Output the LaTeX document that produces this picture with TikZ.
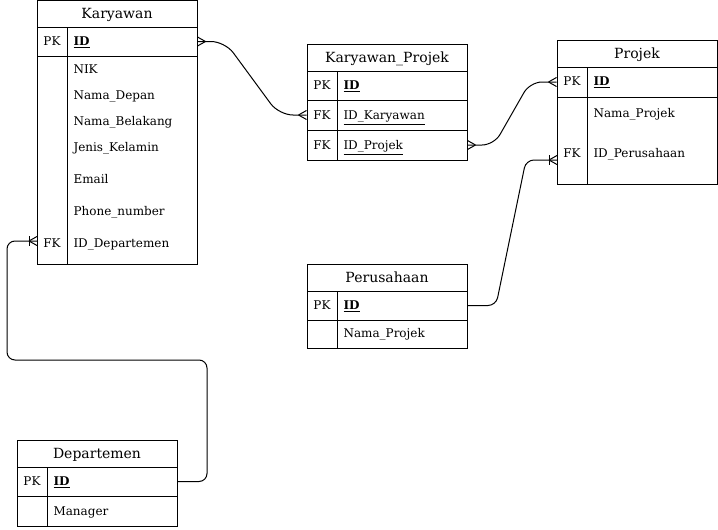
\documentclass[tikz,border=0pt]{standalone}
\usepackage{fontspec}
\setmainfont{DejaVu Serif}
\usetikzlibrary{positioning}

% crow's foot and bar ends, s = 1 (right side) or -1 (left side)
\newcommand{\crow}[2]{\draw (#1) ++({(#2)*8},0) -- ++({-(#2)*8},4.5) (#1) ++({(#2)*8},0) -- ++({-(#2)*8},-4.5);}
\newcommand{\onebar}[2]{\draw (#1) ++({(#2)*8},-5) -- ++(0,10);}

\tikzset{
  tbltitle/.style={draw, minimum width=160pt, minimum height=27pt, inner sep=0pt, text height=10pt, text depth=0pt, font=\fontsize{14}{16}\selectfont},
  rowbox/.style={draw, minimum width=160pt, inner sep=0pt},
  keytxt/.style={inner sep=0pt, text height=9pt, text depth=0pt, font=\fontsize{12}{14}\selectfont},
  fldtxt/.style={keytxt, anchor=west},
}

\begin{document}
\begin{tikzpicture}[x=1pt, y=-1pt, line width=1pt]
    \useasboundingbox (0,0) rectangle (718,530);

    % Karyawan
    \node[tbltitle] (kar) at (117,14) {Karyawan};
    \node[rowbox, minimum height=29pt] (kar-pk) at (117,41.5) {};
    \node[rowbox, minimum height=208pt] (kar-body) at (117,160) {};
    \draw (67,27) -- (67,264);
    \node[keytxt] at (52,41) {PK};
    \node[fldtxt] at (73,41) {\textbf{\underline{ID}}};
    \node[fldtxt] at (73,69) {NIK};
    \node[fldtxt] at (73,95) {Nama\_Depan};
    \node[fldtxt] at (73,121) {Nama\_Belakang};
    \node[fldtxt] at (73,147) {Jenis\_Kelamin};
    \node[fldtxt] at (73,179) {Email};
    \node[fldtxt] at (73,211) {Phone\_number};
    \node[keytxt] at (52,243) {FK};
    \node[fldtxt] at (73,243) {ID\_Departemen};
    \coordinate (kar-fk) at (37,241);

    % Karyawan_Projek
    \node[tbltitle] (kp) at (387,57.5) {Karyawan\_Projek};
    \node[rowbox, minimum height=29pt] (kp-pk) at (387,85.5) {};
    \node[rowbox, minimum height=30pt] (kp-kar) at (387,115) {};
    \node[rowbox, minimum height=30pt] (kp-prj) at (387,145) {};
    \draw (337,71) -- (337,160);
    \node[keytxt] at (322,85) {PK};
    \node[fldtxt] at (343,85) {\textbf{\underline{ID}}};
    \node[keytxt] at (322,115) {FK};
    \node[fldtxt] at (343,115) {\underline{ID\_Karyawan}};
    \node[keytxt] at (322,145) {FK};
    \node[fldtxt] at (343,145) {\underline{ID\_Projek}};

    % Projek
    \node[tbltitle] (prj) at (637,53.5) {Projek};
    \node[rowbox, minimum height=30pt] (prj-pk) at (637,82) {};
    \node[rowbox, minimum height=87pt] (prj-body) at (637,140.5) {};
    \draw (587,67) -- (587,184);
    \node[keytxt] at (572,81) {PK};
    \node[fldtxt] at (593,81) {\textbf{\underline{ID}}};
    \node[fldtxt] at (593,113) {Nama\_Projek};
    \node[keytxt] at (572,153) {FK};
    \node[fldtxt] at (593,153) {ID\_Perusahaan};
    \coordinate (prj-fk) at (557,160);

    % Perusahaan
    \node[tbltitle] (per) at (387,277.5) {Perusahaan};
    \node[rowbox, minimum height=29pt] (per-pk) at (387,305.5) {};
    \node[rowbox, minimum height=28pt] (per-nm) at (387,334) {};
    \draw (337,291) -- (337,348);
    \node[keytxt] at (322,305) {PK};
    \node[fldtxt] at (343,305) {\textbf{\underline{ID}}};
    \node[fldtxt] at (343,333) {Nama\_Projek};

    % Departemen
    \node[tbltitle] (dep) at (97,453.5) {Departemen};
    \node[rowbox, minimum height=29pt] (dep-pk) at (97,481.5) {};
    \node[rowbox, minimum height=30pt] (dep-mgr) at (97,511) {};
    \draw (47,467) -- (47,526);
    \node[keytxt] at (32,481) {PK};
    \node[fldtxt] at (53,481) {\textbf{\underline{ID}}};
    \node[fldtxt] at (53,511) {Manager};

    % Relations
    \draw[rounded corners=14pt] (kar-pk.east) -- (225,41.5) -- (279,115) -- (kp-kar.west);
    \draw[rounded corners=12pt] (kp-prj.east) -- (494,145) -- (530,82) -- (prj-pk.west);
    \draw[rounded corners=8pt] (per-pk.east) -- (496,305.5) -- (526,160) -- (prj-fk);
    \draw[rounded corners=8pt] (dep-pk.east) -- (207,481.5) -- (207,360) -- (7,360) -- (7,241) -- (kar-fk);

    % Ends
    \crow{kar-pk.east}{1}
    \crow{kp-kar.west}{-1}
    \crow{kp-prj.east}{1}
    \crow{prj-pk.west}{-1}
    \crow{prj-fk}{-1} \onebar{prj-fk}{-1}
    \crow{kar-fk}{-1} \onebar{kar-fk}{-1}
\end{tikzpicture}
\end{document}
